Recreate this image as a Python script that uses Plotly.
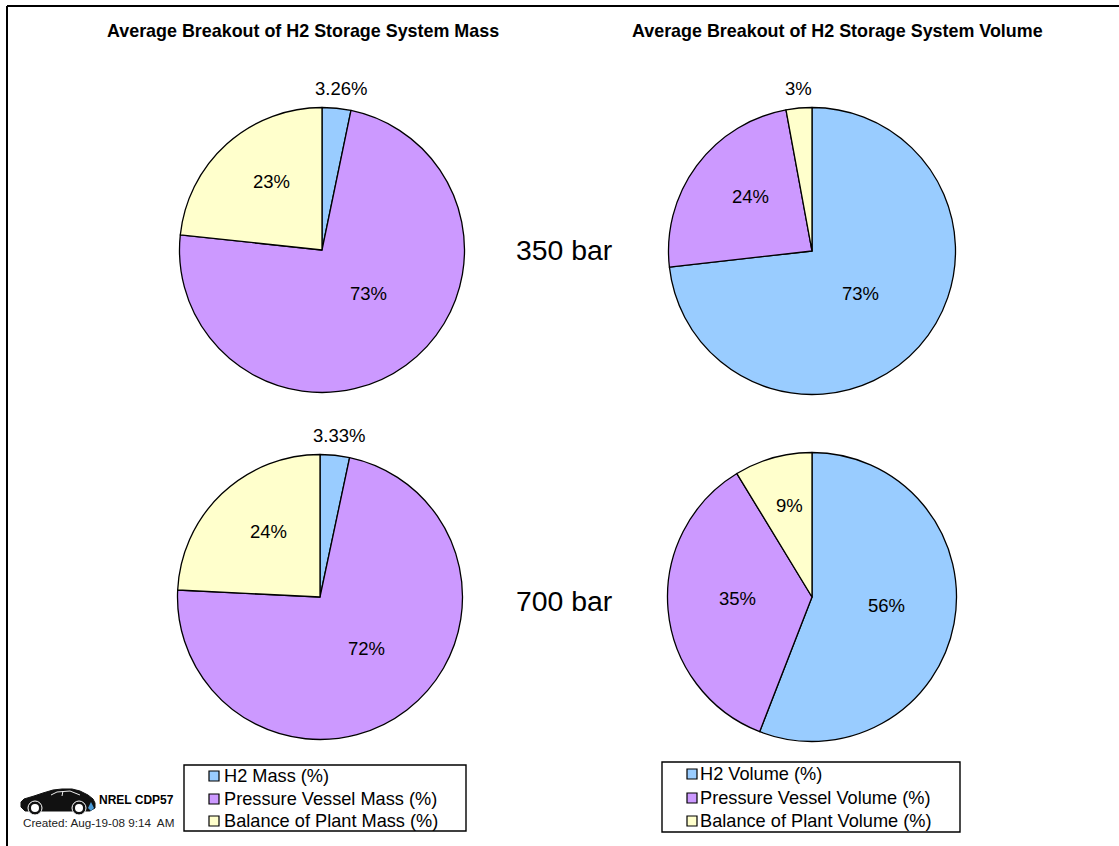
import plotly.graph_objects as go

W, H = 1119, 846
mass_labels = ["H2 Mass (%)", "Pressure Vessel Mass (%)", "Balance of Plant Mass (%)"]
volume_labels = ["H2 Volume (%)", "Pressure Vessel Volume (%)", "Balance of Plant Volume (%)"]
mass_350 = [3.26, 73.4, 23.3]
volume_350 = [73.2, 23.9, 2.9]
mass_700 = [3.33, 72.4, 24.2]
volume_700 = [55.9, 35.4, 8.7]
text_mass_350 = ["3.26%", "73%", "23%"]
text_volume_350 = ["73%", "24%", "3%"]
text_mass_700 = ["3.33%", "72%", "24%"]
text_volume_700 = ["56%", "35%", "9%"]
colors = ["#99CCFF", "#CC99FF", "#FFFFCC"]
FONT = "Liberation Sans"

# cx, cy, r, values, labels, texts, text centre positions
pies = [
    (322, 250, 142.5, mass_350, mass_labels, text_mass_350, [(341, 88), (368, 293), (271, 182)]),
    (812, 251, 143.5, volume_350, volume_labels, text_volume_350, [(798, 88), (750, 196), (860, 293)]),
    (320, 597, 142.5, mass_700, mass_labels, text_mass_700, [(339, 435), (366, 648), (268, 531)]),
    (812, 597, 144.5, volume_700, volume_labels, text_volume_700, [(886, 605), (737, 598), (789, 505)]),
]
pies[1] = (812, 251, 143.5, volume_350, volume_labels, text_volume_350, [(860, 293), (750, 196), (798, 88)])

fig = go.Figure()
ann = []
def px(x, y, text, size, bold=False, color="black", anchor="center"):
    ann.append(dict(x=x / W, y=1 - y / H, xref="paper", yref="paper", text=f"<b>{text}</b>" if bold else text,
                    showarrow=False, xanchor=anchor, yanchor="middle",
                    font=dict(family=FONT, size=size, color=color)))

for cx, cy, r, vals, labs, txts, pos in pies:
    fig.add_trace(go.Pie(values=vals, labels=labs, sort=False, direction="clockwise", rotation=0,
                         textinfo="none", showlegend=False,
                         marker=dict(colors=colors, line=dict(color="black", width=1.3)),
                         domain=dict(x=[(cx - r) / W, (cx + r) / W], y=[1 - (cy + r) / H, 1 - (cy - r) / H])))
    for t, (x, y) in zip(txts, pos):
        px(x, y, t, 18.5)

px(302.5, 31, "Average Breakout of H2 Storage System Mass", 17.9, True)
px(837.5, 31, "Average Breakout of H2 Storage System Volume", 17.9, True)
px(564, 250, "350 bar", 28.4)
px(564, 601, "700 bar", 28.4)
px(97, 800, "NREL CDP57", 12, True, anchor="left")
px(98.5, 822, "Created: Aug-19-08 9:14  AM", 11.7, color="#222222")

def rect(x0, y0, x1, y1, line="black", width=1.4, fill=None):
    return dict(type="rect", xref="paper", yref="paper", x0=x0 / W, x1=x1 / W, y0=1 - y0 / H, y1=1 - y1 / H,
                line=dict(color=line, width=width), fillcolor=fill)

shapes = [rect(184, 765, 466, 831), rect(662, 762, 960, 832)]
for (sx, tx, ys, labs) in [(209, 222, (776, 799, 821), mass_labels),
                           (687, 698, (774, 798, 821), volume_labels)]:
    for y, c, t in zip(ys, colors, labs):
        shapes.append(rect(sx, y - 5, sx + 10, y + 5, width=1.2, fill=c))
        px(tx, y, t, 18.2, anchor="left")

# frame
shapes.append(dict(type="line", xref="paper", yref="paper", x0=7 / W, x1=7 / W, y0=0, y1=1 - 6 / H, line=dict(color="black", width=2)))
shapes.append(dict(type="line", xref="paper", yref="paper", x0=7 / W, x1=1, y0=1 - 6 / H, y1=1 - 6 / H, line=dict(color="black", width=2)))

# car silhouette in pixel coordinates
def P(x, y):
    return f"{x / W:.5f},{1 - y / H:.5f}"
def poly(pts, fill, lw=0, lc=None):
    return dict(type="path", xref="paper", yref="paper", fillcolor=fill, line=dict(color=lc or fill, width=lw),
                path="M" + " L".join(P(*p) for p in pts) + " Z")
def circ(x, y, r, fill, lw=0, lc="white"):
    return dict(type="circle", xref="paper", yref="paper", x0=(x - r) / W, x1=(x + r) / W,
                y0=1 - (y + r) / H, y1=1 - (y - r) / H, fillcolor=fill, line=dict(color=lc, width=lw))
car = [(21, 807), (21, 802), (24, 799), (34, 796), (43, 793), (53, 790), (62, 789), (72, 789), (80, 791),
       (88, 795), (93, 799), (95, 803), (95, 808), (90, 811), (25, 811)]
shapes.append(poly(car, "#111111", 1))
for wx in (35, 79):
    shapes.append(circ(wx, 808, 7, "#111111", 1, "white"))
    shapes.append(circ(wx, 808, 4, "white"))
# window dividers
shapes.append(dict(type="path", xref="paper", yref="paper", line=dict(color="#eeeeee", width=1),
                   path="M" + " L".join(P(*p) for p in [(51, 795), (57, 792), (70, 791), (80, 795)])))
shapes.append(dict(type="line", xref="paper", yref="paper", x0=63 / W, x1=62 / W, y0=1 - 791 / H, y1=1 - 796 / H,
                   line=dict(color="#eeeeee", width=1)))
# hydrogen droplet
shapes.append(poly([(91, 802), (94, 808), (91, 811), (88, 808)], "#4a9bd8"))

fig.update_layout(width=W, height=H, margin=dict(l=0, r=0, t=0, b=0), paper_bgcolor="white",
                  plot_bgcolor="white", annotations=ann, shapes=shapes, showlegend=False,
                  font=dict(family=FONT))
fig.write_html("out.html", config={"displayModeBar": False},
               post_script="document.body.style.margin='0';document.documentElement.style.overflow='hidden';")
